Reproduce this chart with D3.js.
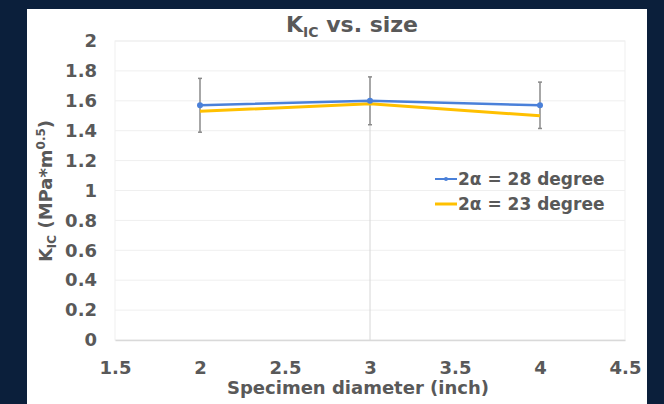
<!DOCTYPE html>
<html>
<head>
<meta charset="utf-8">
<script src="https://cdn.jsdelivr.net/npm/d3@7"></script>
<style>
    body { margin: 0; background: #0b1f3b; }
    svg { display: block; }
    text { font-family: "DejaVu Sans", sans-serif; font-weight: bold; fill: #595959; }
</style>
</head>
<body>
<svg id="chart" width="664" height="404"></svg>
<script>
// values
const diameters = [2, 3, 4]
const kic28 = [1.57, 1.60, 1.57]
const kic28Err = [0.18, 0.16, 0.155]
const kic23 = [1.53, 1.58, 1.50]
const seriesNames = ["2α = 28 degree", "2α = 23 degree"]
const xTicks = [1.5, 2, 2.5, 3, 3.5, 4, 4.5]
const yTicks = [0, 0.2, 0.4, 0.6, 0.8, 1, 1.2, 1.4, 1.6, 1.8, 2]

const blue = '#4a80d9'
const yellow = '#ffc000'

const svg = d3.select('#chart')

// white panel
svg.append('rect')
    .attr('x', 27).attr('y', 9)
    .attr('width', 620).attr('height', 400)
    .attr('fill', '#fff')

const xScale = d3.scaleLinear()
    .domain([1.5, 4.5])
    .range([115, 625])

const yScale = d3.scaleLinear()
    .domain([0, 2])
    .range([340, 41])

// plot area frame + gridlines
svg.append('rect')
    .attr('x', xScale(1.5)).attr('y', yScale(2))
    .attr('width', xScale(4.5) - xScale(1.5))
    .attr('height', yScale(0) - yScale(2))
    .attr('fill', 'none')
    .attr('stroke', '#efefef')

svg.append('g')
    .selectAll('line')
    .data(yTicks.slice(1))
    .enter()
    .append('line')
    .attr('x1', xScale(1.5)).attr('x2', xScale(4.5))
    .attr('y1', d => yScale(d)).attr('y2', d => yScale(d))
    .attr('stroke', '#efefef')

// faint vertical line at the middle diameter
svg.append('line')
    .attr('x1', xScale(3)).attr('x2', xScale(3))
    .attr('y1', yScale(kic28[1] - kic28Err[1])).attr('y2', yScale(0))
    .attr('stroke', '#d6d6d6')

const xAxis = d3.axisBottom(xScale)
    .tickValues(xTicks)
    .tickFormat(d => String(d))
    .tickSize(0)
    .tickPadding(21)

const yAxis = d3.axisLeft(yScale)
    .tickValues(yTicks)
    .tickFormat(d => String(d))
    .tickSize(0)
    .tickPadding(18)

const gx = svg.append('g')
    .attr('transform', 'translate(0,' + yScale(0) + ')')
    .call(xAxis)
gx.select('.domain').attr('stroke', '#d9d9d9').attr('stroke-width', 1.5)
gx.selectAll('text').style('font-size', '18px').attr('fill', '#595959')

const gy = svg.append('g')
    .attr('transform', 'translate(' + xScale(1.5) + ',0)')
    .call(yAxis)
gy.select('.domain').remove()
gy.selectAll('text').style('font-size', '18px').attr('fill', '#595959')

// error bars (28 degree series)
const errG = svg.append('g')
diameters.forEach((d, i) => {
    const x = xScale(d)
    const top = yScale(kic28[i] + kic28Err[i])
    const bot = yScale(kic28[i] - kic28Err[i])
    errG.append('line')
        .attr('x1', x).attr('x2', x).attr('y1', top).attr('y2', bot)
        .attr('stroke', '#8a8a8a').attr('stroke-width', 1.5)
    ;[top, bot].forEach(y => {
        errG.append('line')
            .attr('x1', x - 2).attr('x2', x + 2).attr('y1', y).attr('y2', y)
            .attr('stroke', '#8a8a8a').attr('stroke-width', 1.5)
    })
})

const line = d3.line()
    .x(d => xScale(d[0]))
    .y(d => yScale(d[1]))

svg.append('path')
    .datum(d3.zip(diameters, kic23))
    .attr('d', line)
    .attr('fill', 'none')
    .attr('stroke', yellow)
    .attr('stroke-width', 3)

svg.append('path')
    .datum(d3.zip(diameters, kic28))
    .attr('d', line)
    .attr('fill', 'none')
    .attr('stroke', blue)
    .attr('stroke-width', 2.5)

svg.append('g')
    .selectAll('circle')
    .data(d3.zip(diameters, kic28))
    .enter()
    .append('circle')
    .attr('cx', d => xScale(d[0]))
    .attr('cy', d => yScale(d[1]))
    .attr('r', 3)
    .attr('fill', blue)

// legend
const legend = svg.append('g')
const legColors = [blue, yellow]
seriesNames.forEach((name, i) => {
    const y = 179 + i * 25
    legend.append('line')
        .attr('x1', 435).attr('x2', 457).attr('y1', y).attr('y2', y)
        .attr('stroke', legColors[i]).attr('stroke-width', i ? 3 : 2)
    if (i === 0) {
        legend.append('circle').attr('cx', 446).attr('cy', y).attr('r', 2).attr('fill', blue)
    }
    legend.append('text')
        .attr('x', 458).attr('y', y + 6)
        .style('font-size', '17px')
        .text(name)
})

// title
const title = svg.append('text')
    .attr('x', 352).attr('y', 32)
    .attr('text-anchor', 'middle')
    .style('font-size', '22px')
title.append('tspan').text('K')
title.append('tspan').attr('dy', 5).style('font-size', '14px').text('IC')
title.append('tspan').attr('dy', -5).text(' vs. size')

// axis titles
svg.append('text')
    .attr('x', 358).attr('y', 394)
    .attr('text-anchor', 'middle')
    .style('font-size', '18px')
    .text('Specimen diameter (inch)')

const yTitle = svg.append('text')
    .attr('transform', 'translate(52,191) rotate(-90)')
    .attr('text-anchor', 'middle')
    .style('font-size', '18px')
yTitle.append('tspan').text('K')
yTitle.append('tspan').attr('dy', 4).style('font-size', '12px').text('IC')
yTitle.append('tspan').attr('dy', -4).text(' (MPa*m')
yTitle.append('tspan').attr('dy', -7).style('font-size', '12px').text('0.5')
yTitle.append('tspan').attr('dy', 7).text(')')
</script>
</body>
</html>
